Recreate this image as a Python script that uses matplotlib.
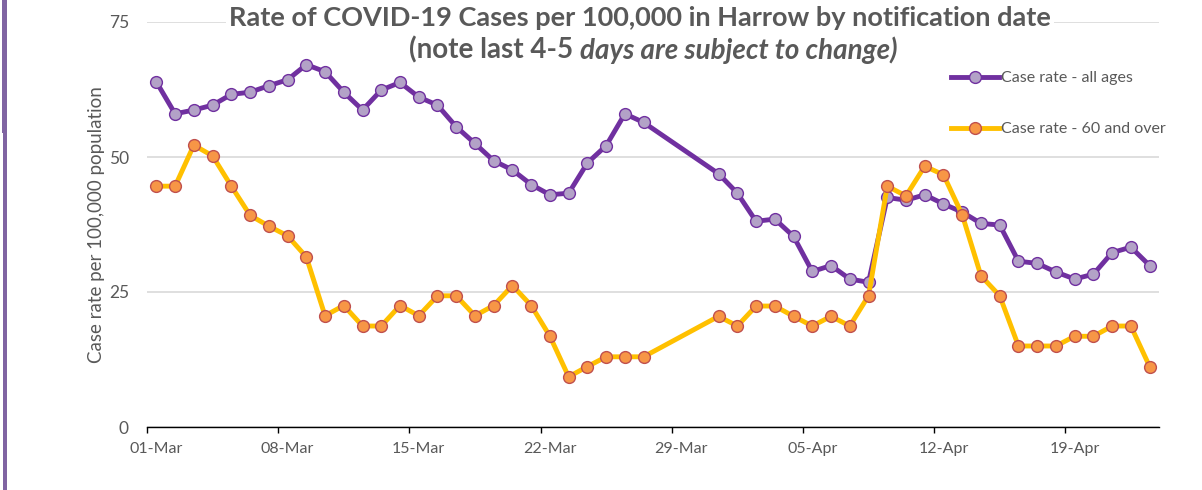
import matplotlib

matplotlib.use('Agg')
import matplotlib.pyplot as plt
import matplotlib.dates as mdates
from matplotlib.patches import Rectangle
import pandas as pd

plt.rcParams['font.family'] = ['Lato', 'DejaVu Sans']

# daily notification dates (28-30 Mar missing in the source)
dates = list(pd.date_range('2021-03-01', '2021-03-27')) + list(pd.date_range('2021-03-31', '2021-04-23'))

all_ages = [63.9, 58.0, 58.7, 59.6, 61.6, 62.0, 63.2, 64.3, 67.1, 65.8,
            62.0, 58.7, 62.4, 63.8, 61.1, 59.6, 55.6, 52.5, 49.3, 47.6,
            44.9, 43.0, 43.3, 48.9, 52.1, 58.0, 56.4,
            46.9, 43.3, 38.1, 38.5, 35.3, 28.8, 29.9, 27.4, 26.8, 42.5,
            42.0, 43.0, 41.3, 39.8, 37.7, 37.4, 30.7, 30.3, 28.7, 27.4,
            28.3, 32.3, 33.3, 29.9]

over_60 = [44.6, 44.6, 52.2, 50.2, 44.6, 39.2, 37.2, 35.4, 31.5, 20.6,
           22.5, 18.7, 18.7, 22.5, 20.6, 24.3, 24.3, 20.6, 22.5, 26.2,
           22.5, 16.8, 9.3, 11.2, 13.0, 13.0, 13.0,
           20.5, 18.7, 22.4, 22.4, 20.5, 18.7, 20.5, 18.7, 24.3, 44.6,
           42.8, 48.3, 46.7, 39.3, 28.0, 24.3, 15.0, 15.0, 15.0, 16.8,
           16.8, 18.7, 18.7, 11.2]

tick_dates = ['2021-03-01', '2021-03-08', '2021-03-15', '2021-03-22',
              '2021-03-29', '2021-04-05', '2021-04-12', '2021-04-19']
y_ticks = [0, 25, 50, 75]

GREY = '#595959'

fig = plt.figure(figsize=(12.02, 4.9), dpi=100)
ax = fig.add_axes([147 / 1202, 63 / 490, 1012 / 1202, 405 / 490])

x = mdates.date2num(dates)
ax.plot(x, all_ages, color='#7030A0', linewidth=3.5, marker='o', markersize=8.5,
        markerfacecolor='#B3A2C7', markeredgecolor='#7030A0', markeredgewidth=1,
        label='Case rate - all ages', zorder=3)
ax.plot(x, over_60, color='#FFC000', linewidth=3.5, marker='o', markersize=8.5,
        markerfacecolor='#F79646', markeredgecolor='#C0504D', markeredgewidth=1,
        label='Case rate - 60 and over', zorder=4)

ax.set_xlim(x[0] - 0.5, x[-1] + 0.5)
ax.set_ylim(0, 75)

# labels at the dates, tick marks at the day boundaries
tx = mdates.date2num(pd.to_datetime(tick_dates))
ax.set_xticks(tx)
ax.set_xticklabels(pd.to_datetime(tick_dates).strftime('%d-%b'))
ax.set_xticks(tx - 0.5, minor=True)
ax.tick_params(axis='x', which='major', length=0, pad=11, labelsize=11.5, labelcolor=GREY)
ax.tick_params(axis='x', which='minor', length=4, width=1, color='black', direction='out')

ax.set_yticks(y_ticks)
ax.tick_params(axis='y', length=0, pad=13, labelsize=12.5, labelcolor=GREY)
ax.yaxis.grid(True, color='#D9D9D9', linewidth=1.2)
ax.set_axisbelow(True)

for s in ['top', 'right', 'left']:
    ax.spines[s].set_visible(False)
ax.spines['bottom'].set_color('black')
ax.spines['bottom'].set_linewidth(1)

ax.set_ylabel('Case rate per 100,000 population', fontsize=13.5, color=GREY, labelpad=3)

leg = ax.legend(loc='upper left', bbox_to_anchor=(951 / 1202, 1 - 71 / 490),
                bbox_transform=fig.transFigure, frameon=False, fontsize=11.5,
                labelcolor=GREY, handlelength=3.0, handletextpad=0.1,
                labelspacing=2.3, borderpad=0, borderaxespad=0)

# title, second part partly italic
fig.text(640 / 1202, 1 - 18 / 490, 'Rate of COVID-19 Cases per 100,000 in Harrow by notification date',
         ha='center', va='center', fontsize=19.5, fontweight='bold', color=GREY,
         bbox=dict(facecolor='white', edgecolor='none', pad=2))
part1 = '(note last 4-5 '
part2 = 'days are subject to change)'
r = fig.canvas.get_renderer()
t1 = fig.text(0, 1 - 50 / 490, part1, ha='left', va='center', fontsize=20,
              fontweight='bold', color=GREY)
t2 = fig.text(0, 1 - 50 / 490, part2, ha='left', va='center', fontsize=20,
              fontweight='bold', fontstyle='italic', color=GREY)
w1 = t1.get_window_extent(r).width
w2 = t2.get_window_extent(r).width
x0 = 653 - (w1 + w2) / 2
t1.set_x(x0 / 1202)
t2.set_x((x0 + w1) / 1202)

# purple frame edge at the left
fig.add_artist(Rectangle((3 / 1202, 0), 4 / 1202, 1, transform=fig.transFigure,
                         facecolor='#8064A2', edgecolor='none'))
fig.add_artist(Rectangle((2 / 1202, 1 - 133 / 490), 5 / 1202, 133 / 490,
                         transform=fig.transFigure, facecolor='#8064A2', edgecolor='none'))

plt.savefig('out.png', dpi=100)
plt.close(fig)
